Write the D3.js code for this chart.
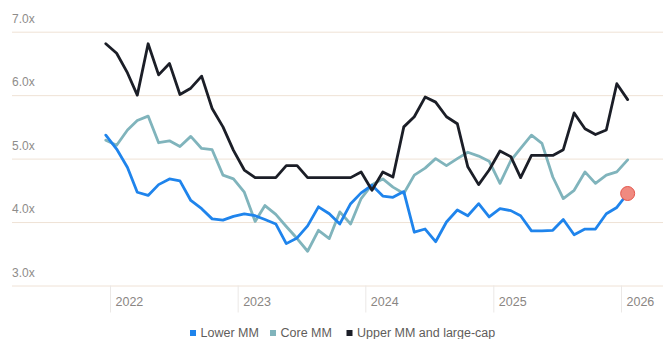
<!DOCTYPE html>
<html>
<head>
<meta charset="utf-8">
<script src="https://cdn.jsdelivr.net/npm/d3@7"></script>
<style>
  html, body { margin: 0; padding: 0; background: #fff; }
  svg { display: block; font-family: "Liberation Sans", Arial, sans-serif; }
</style>
</head>
<body>
<svg id="chart" width="663" height="339"></svg>
<script>
// EV/Revenue multiples by market segment, monthly
const seriesNames = ["Lower MM", "Core MM", "Upper MM and large-cap"];
const seriesColors = ["#1f84ec", "#80b4bc", "#1b1e27"];

const lowerMM = [
  5.37, 5.15, 4.86, 4.47, 4.42, 4.59, 4.68, 4.65, 4.34, 4.21,
  4.05, 4.03, 4.09, 4.13, 4.10, 4.04, 3.97, 3.66, 3.75, 3.94,
  4.24, 4.13, 3.97, 4.29, 4.46, 4.58, 4.41, 4.39, 4.48, 3.84,
  3.89, 3.69, 4.00, 4.19, 4.10, 4.29, 4.08, 4.21, 4.18, 4.10,
  3.86, 3.86, 3.87, 4.04, 3.80, 3.89, 3.89, 4.13, 4.23, 4.45
];
const coreMM = [
  5.29, 5.21, 5.45, 5.60, 5.67, 5.25, 5.28, 5.19, 5.35, 5.16,
  5.14, 4.74, 4.68, 4.47, 4.01, 4.26, 4.12, 3.93, 3.74, 3.54,
  3.87, 3.74, 4.16, 3.97, 4.37, 4.59, 4.68, 4.55, 4.45, 4.74,
  4.85, 5.00, 4.89, 5.00, 5.10, 5.04, 4.96, 4.61, 4.97, 5.16,
  5.37, 5.24, 4.71, 4.37, 4.50, 4.79, 4.61, 4.74, 4.79, 4.98
];
const upperMM = [
  6.81, 6.66, 6.35, 6.00, 6.81, 6.32, 6.50, 6.01, 6.11, 6.30,
  5.79, 5.50, 5.13, 4.82, 4.70, 4.70, 4.70, 4.89, 4.89, 4.70,
  4.70, 4.70, 4.70, 4.70, 4.79, 4.50, 4.79, 4.71, 5.50, 5.66,
  5.97, 5.89, 5.66, 5.55, 4.87, 4.59, 4.82, 5.12, 5.03, 4.70,
  5.05, 5.05, 5.05, 5.14, 5.72, 5.47, 5.38, 5.45, 6.18, 5.93
];

const yTicks = [3, 4, 5, 6, 7];
const yearLabels = ["2022", "2023", "2024", "2025", "2026"];

// one observation per month, starting late December 2021
const firstMonth = new Date(2021, 11, 20);
const dates = lowerMM.map((_, i) => d3.timeMonth.offset(firstMonth, i));
const yearDates = yearLabels.map(y => new Date(+y, 0, 1));

const svg = d3.select("#chart");
const W = 663;

const x = d3.scaleTime()
  .domain([yearDates[0], yearDates[yearDates.length - 1]])
  .range([110, 621]);
const y = d3.scaleLinear().domain([3, 7]).range([285.5, 31.7]);

// horizontal grid + y labels
const yAxis = d3.axisRight(y)
  .tickValues(yTicks)
  .tickSize(W - 12)
  .tickFormat(d => d3.format(".1f")(d) + "x");
const gy = svg.append("g").attr("transform", "translate(12,0)").call(yAxis);
gy.select(".domain").remove();
gy.selectAll(".tick line").attr("stroke", "#efe2d6").attr("stroke-width", 1);
gy.selectAll(".tick text")
  .attr("x", 0).attr("dy", -9.5)
  .attr("text-anchor", "start")
  .attr("fill", "#8e8c8a")
  .attr("font-size", 12);

// x axis: year ticks below the baseline
const xAxis = d3.axisBottom(x)
  .tickValues(yearDates)
  .tickSize(27)
  .tickFormat(d3.timeFormat("%Y"));
const gx = svg.append("g").attr("transform", `translate(0,${y(3)})`).call(xAxis);
gx.select(".domain").remove();
gx.selectAll(".tick line").attr("stroke", "#ebe8e6").attr("stroke-width", 1);
gx.selectAll(".tick text")
  .attr("x", 5).attr("y", 20).attr("dy", 0)
  .attr("text-anchor", "start")
  .attr("fill", "#8a8683")
  .attr("font-size", 12.5);

// series lines
const line = d3.line()
  .x((d, i) => x(dates[i]))
  .y(d => y(d));
const series = [lowerMM, coreMM, upperMM];
const order = [1, 0, 2];
order.forEach(k => {
  svg.append("path")
    .datum(series[k])
    .attr("fill", "none")
    .attr("stroke", seriesColors[k])
    .attr("stroke-width", 2.8)
    .attr("stroke-linejoin", "round")
    .attr("stroke-linecap", "round")
    .attr("d", line);
});

// highlight latest lower mid-market reading
const last = lowerMM.length - 1;
svg.append("circle")
  .attr("cx", x(dates[last]))
  .attr("cy", y(lowerMM[last]))
  .attr("r", 7)
  .attr("fill", "#f08a80")
  .attr("stroke", "#e4564c")
  .attr("stroke-width", 1);

// legend
const legendX = [190, 270, 346.5];
const lg = svg.append("g").attr("transform", "translate(0,333)");
seriesNames.forEach((name, i) => {
  lg.append("rect")
    .attr("x", legendX[i]).attr("y", -3)
    .attr("width", 6).attr("height", 6)
    .attr("fill", seriesColors[i]);
  lg.append("text")
    .attr("x", legendX[i] + 10.5).attr("y", 4.3)
    .attr("fill", "#5f5d5b")
    .attr("font-size", 12.5)
    .text(name);
});
</script>
</body>
</html>
